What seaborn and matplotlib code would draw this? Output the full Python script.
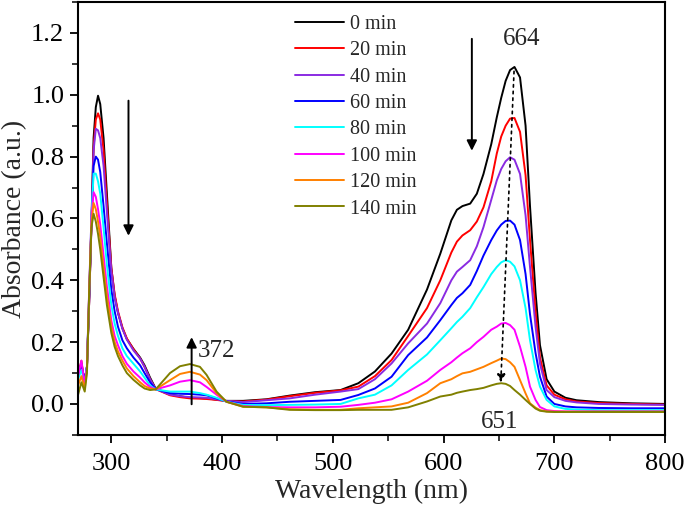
import numpy as np
import pandas as pd
import seaborn as sns
import matplotlib
matplotlib.use('Agg')
import matplotlib.pyplot as plt
from matplotlib.ticker import MultipleLocator

# -------------------- Data --------------------

wavelength = [270, 273, 276, 278, 280, 282, 284, 286, 288, 290,
              293, 296, 300, 303, 306, 310, 314, 320, 326, 330,
              335, 340, 353, 362, 371, 380, 386, 395, 404, 419,
              440, 461, 484, 507, 523, 538, 553, 568, 585, 597,
              607, 612, 617, 624, 630, 636, 643, 648, 652, 656,
              660, 664, 669, 674, 678, 683, 687, 693, 700, 710,
              720, 740, 770, 800]

times = ['0 min', '20 min', '40 min', '60 min', '80 min', '100 min', '120 min', '140 min']

abs_0 = [0.10, 0.13, 0.07, 0.12, 0.33, 0.58, 0.86, 0.96, 0.997, 0.97,
         0.86, 0.68, 0.44, 0.35, 0.295, 0.245, 0.21, 0.178, 0.15, 0.125,
         0.085, 0.05, 0.03, 0.025, 0.02, 0.019, 0.018, 0.014, 0.01, 0.01,
         0.015, 0.027, 0.038, 0.045, 0.067, 0.105, 0.163, 0.24, 0.37, 0.486,
         0.594, 0.628, 0.64, 0.648, 0.68, 0.744, 0.84, 0.927, 0.99, 1.045,
         1.08, 1.09, 1.056, 0.90, 0.64, 0.36, 0.19, 0.08, 0.04, 0.02,
         0.012, 0.006, 0.002, 0.0]
abs_20 = [0.09, 0.14, 0.06, 0.12, 0.33, 0.57, 0.83, 0.92, 0.94, 0.92,
          0.82, 0.65, 0.44, 0.355, 0.30, 0.248, 0.212, 0.177, 0.147, 0.12,
          0.08, 0.048, 0.028, 0.022, 0.018, 0.017, 0.016, 0.013, 0.009, 0.008,
          0.014, 0.025, 0.036, 0.044, 0.056, 0.09, 0.142, 0.22, 0.31, 0.40,
          0.49, 0.525, 0.545, 0.562, 0.59, 0.636, 0.72, 0.81, 0.865, 0.90,
          0.923, 0.925, 0.88, 0.74, 0.53, 0.30, 0.15, 0.06, 0.03, 0.015,
          0.008, 0.003, 0.0, -0.002]
abs_40 = [0.10, 0.13, 0.07, 0.12, 0.33, 0.57, 0.82, 0.89, 0.885, 0.86,
          0.77, 0.62, 0.43, 0.345, 0.295, 0.243, 0.208, 0.173, 0.147, 0.12,
          0.08, 0.048, 0.03, 0.025, 0.022, 0.021, 0.02, 0.015, 0.01, 0.006,
          0.012, 0.018, 0.03, 0.04, 0.048, 0.08, 0.131, 0.196, 0.26, 0.326,
          0.40, 0.428, 0.443, 0.465, 0.51, 0.572, 0.66, 0.723, 0.76, 0.785,
          0.798, 0.79, 0.744, 0.61, 0.443, 0.25, 0.13, 0.045, 0.022, 0.01,
          0.005, 0.0, -0.002, -0.003]
abs_60 = [0.10, 0.12, 0.08, 0.12, 0.35, 0.58, 0.77, 0.80, 0.79, 0.75,
          0.64, 0.52, 0.37, 0.30, 0.25, 0.206, 0.18, 0.15, 0.125, 0.10,
          0.07, 0.048, 0.035, 0.033, 0.032, 0.03, 0.028, 0.018, 0.008, 0.0,
          0.002, 0.007, 0.01, 0.013, 0.029, 0.05, 0.088, 0.158, 0.215, 0.271,
          0.32, 0.343, 0.358, 0.385, 0.43, 0.48, 0.53, 0.561, 0.58, 0.592,
          0.593, 0.58, 0.53, 0.42, 0.29, 0.165, 0.088, 0.024, 0.0, -0.008,
          -0.011, -0.013, -0.014, -0.014]
abs_80 = [0.08, 0.11, 0.07, 0.12, 0.36, 0.60, 0.745, 0.745, 0.72, 0.68,
          0.57, 0.45, 0.32, 0.26, 0.22, 0.18, 0.155, 0.13, 0.105, 0.085,
          0.06, 0.047, 0.04, 0.04, 0.04, 0.035, 0.03, 0.02, 0.007, -0.003,
          -0.004, -0.003, -0.002, 0.0, 0.018, 0.03, 0.06, 0.11, 0.16, 0.206,
          0.245, 0.265, 0.282, 0.31, 0.345, 0.378, 0.42, 0.443, 0.458, 0.465,
          0.46, 0.445, 0.40, 0.31, 0.206, 0.11, 0.056, 0.013, -0.008, -0.016,
          -0.018, -0.02, -0.02, -0.02]
abs_100 = [0.09, 0.14, 0.06, 0.12, 0.37, 0.60, 0.685, 0.67, 0.63, 0.58,
           0.48, 0.38, 0.27, 0.22, 0.19, 0.155, 0.13, 0.105, 0.085, 0.07,
           0.055, 0.047, 0.06, 0.072, 0.077, 0.07, 0.055, 0.03, 0.007, -0.007,
           -0.01, -0.011, -0.011, -0.009, -0.003, 0.004, 0.015, 0.04, 0.075, 0.11,
           0.135, 0.15, 0.164, 0.18, 0.20, 0.217, 0.24, 0.25, 0.26, 0.262,
           0.255, 0.24, 0.185, 0.12, 0.056, 0.013, -0.01, -0.02, -0.023, -0.024,
           -0.024, -0.024, -0.024, -0.024]
abs_120 = [0.06, 0.09, 0.05, 0.11, 0.36, 0.58, 0.65, 0.63, 0.59, 0.54,
           0.44, 0.35, 0.25, 0.20, 0.17, 0.14, 0.115, 0.09, 0.07, 0.058,
           0.05, 0.047, 0.077, 0.097, 0.104, 0.095, 0.077, 0.035, 0.007, -0.009,
           -0.011, -0.017, -0.019, -0.019, -0.014, -0.011, -0.008, 0.004, 0.035, 0.067,
           0.08, 0.09, 0.099, 0.104, 0.112, 0.12, 0.132, 0.14, 0.147, 0.145,
           0.135, 0.12, 0.077, 0.034, 0.002, -0.012, -0.02, -0.024, -0.025, -0.025,
           -0.025, -0.025, -0.025, -0.025]
abs_140 = [0.03, 0.07, 0.04, 0.10, 0.36, 0.57, 0.615, 0.59, 0.55, 0.50,
           0.41, 0.32, 0.23, 0.185, 0.155, 0.125, 0.10, 0.078, 0.06, 0.05,
           0.045, 0.047, 0.10, 0.122, 0.129, 0.12, 0.094, 0.04, 0.007, -0.009,
           -0.011, -0.019, -0.02, -0.02, -0.019, -0.019, -0.019, -0.011, 0.008, 0.024,
           0.03, 0.036, 0.04, 0.045, 0.048, 0.052, 0.06, 0.065, 0.067, 0.065,
           0.058, 0.045, 0.03, 0.013, 0.0, -0.015, -0.022, -0.025, -0.026, -0.026,
           -0.026, -0.026, -0.026, -0.026]

series = [abs_0, abs_20, abs_40, abs_60, abs_80, abs_100, abs_120, abs_140]
colors = ['#000000', '#ff0000', '#8a2be2', '#0000ff', '#00ffff', '#ff00ff', '#ff8000', '#808000']


def main():
    df = pd.concat(
        [pd.DataFrame({'wavelength': wavelength, 'absorbance': vals, 'time': t})
         for t, vals in zip(times, series)],
        ignore_index=True)

    sns.set_theme(style='ticks')
    plt.rcParams['font.family'] = ['Liberation Serif', 'DejaVu Serif']

    fig = plt.figure(figsize=(6.85, 5.11), dpi=100)
    ax = fig.add_axes([0.114, 0.149, 0.857, 0.847])

    sns.lineplot(data=df, x='wavelength', y='absorbance', hue='time',
                 palette=colors, hue_order=times, linewidth=1.4, sort=False,
                 estimator=None, ax=ax)

    ax.set_xlim(270, 800)
    ax.set_ylim(-0.1, 1.3)
    ax.xaxis.set_major_locator(MultipleLocator(100))
    ax.xaxis.set_minor_locator(MultipleLocator(50))
    ax.yaxis.set_minor_locator(MultipleLocator(0.1))
    ax.set_yticks(np.arange(0, 1.21, 0.2))
    ax.yaxis.set_major_formatter(plt.FuncFormatter(lambda v, p: f'{v:.1f}'))
    ax.tick_params(which='major', direction='out', length=6, width=1.3, labelsize=19,
                   colors='black', pad=4)
    ax.tick_params(axis='x', which='major', pad=7)
    ax.tick_params(which='minor', direction='out', length=4, width=1.3)
    for sp in ax.spines.values():
        sp.set_linewidth(1.5)
        sp.set_color('black')
        sp.set_visible(True)

    ax.set_xlabel('Wavelength (nm)', fontsize=20, labelpad=3)
    ax.set_ylabel('Absorbance (a.u.)', fontsize=20, labelpad=3)

    # arrows and labels
    arrow = dict(arrowstyle='-|>', color='black', lw=1.4, mutation_scale=15)
    ax.annotate('', xy=(315.5, 0.535), xytext=(315.5, 0.99), arrowprops=arrow)
    ax.annotate('', xy=(372.5, 0.225), xytext=(372.5, -0.01), arrowprops=arrow)
    ax.annotate('', xy=(625.5, 0.81), xytext=(625.5, 1.19), arrowprops=arrow)
    ax.annotate('', xy=(651.5, 0.06), xytext=(663.7, 1.085),
                arrowprops=dict(arrowstyle='-|>', color='black', lw=1.2,
                                linestyle=(0, (1.5, 2.5)), mutation_scale=12))
    ax.text(378, 0.17, '372', fontsize=18, va='center', ha='left')
    ax.text(670.5, 1.18, '664', fontsize=18, va='center', ha='center')
    ax.text(651, -0.058, '651', fontsize=18, va='center', ha='center')

    ax.legend(title=None, frameon=False, loc='upper left', bbox_to_anchor=(0.339, 1.012),
              fontsize=14.5, handlelength=2.4, labelspacing=0.36, handletextpad=0.3)

    fig.savefig('out.png', dpi=100)


if __name__ == '__main__':
    main()
